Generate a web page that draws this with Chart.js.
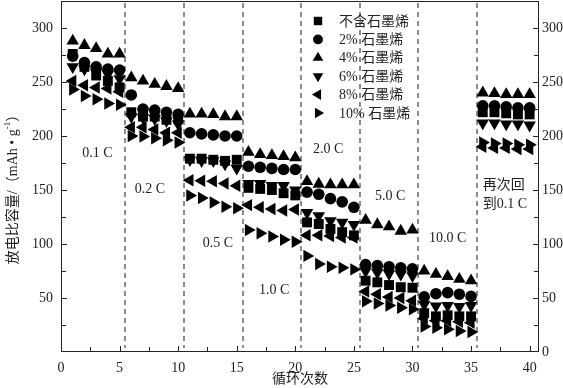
<!DOCTYPE html>
<html>
<head>
<meta charset="utf-8">
<script src="https://cdn.jsdelivr.net/npm/chart.js@4"></script>
<style>
  body { margin: 0; background: #fff; }
  canvas { display: block; }
</style>
</head>
<body>
<canvas id="rate" width="563" height="388"></canvas>
<script>
// cycle number 1..40
const cycles = [1, 2, 3, 4, 5, 6, 7, 8, 9, 10, 11, 12, 13, 14, 15, 16, 17, 18, 19, 20,
    21, 22, 23, 24, 25, 26, 27, 28, 29, 30, 31, 32, 33, 34, 35, 36, 37, 38, 39, 40];

const seriesNames = ["不含石墨烯", "2% 石墨烯", "4% 石墨烯", "6% 石墨烯", "8% 石墨烯", "10% 石墨烯"];

// discharge capacity, mAh/g
const cap0 = [276, 264, 256, 251, 245, 222, 218, 218, 215, 216,
    179, 179, 178, 177, 178, 152, 151, 150, 147, 145,
    120, 118.5, 114, 111, 108, 66, 64.5, 62, 60, 59.5,
    36, 33, 34, 33, 33, 222, 222, 221, 220, 220];
const cap2 = [274, 268, 264, 262, 261, 238, 225, 224, 222, 220,
    203, 202, 201, 200, 200, 172, 171, 170, 169, 169,
    148, 146, 142, 139, 134, 81, 80, 79, 78, 77,
    51, 54, 55, 53.5, 51.5, 228, 228, 227, 226, 226];
const cap4 = [288, 284, 281, 276, 276, 254, 251, 248, 246, 244,
    220.5, 220.5, 220, 218, 218, 185, 183, 182, 181, 180,
    158, 155.5, 155, 155, 155, 122, 118, 116, 112, 113,
    75, 72, 70, 67.5, 66, 240, 239.5, 238.5, 238.5, 238.5];
const cap6 = [264, 262, 259, 257, 253, 218, 217, 216, 214, 211,
    178, 177, 177, 174, 170, 156, 156, 154, 154, 150,
    129, 126, 121.5, 120, 118, 75, 73.5, 72.5, 72, 70.5,
    44, 42.5, 43, 42, 43, 212, 212, 211, 211, 210];
const cap8 = [251, 247, 245, 244, 241, 208, 208, 206, 203, 203,
    159, 158.5, 158, 156, 154, 136, 134, 132.5, 131, 132,
    108, 108, 107.5, 106, 106, 56, 53.5, 51, 50, 47.5,
    31, 29, 29, 28, 27, 190, 189, 189, 188, 188];
const cap10 = [243, 237, 234, 230, 229, 200, 199.5, 198, 196, 194,
    145, 142.5, 138.5, 134.5, 133, 113, 110, 107, 104, 102,
    89, 81.5, 79, 78, 76.5, 47, 45, 43, 41, 39.5,
    23.5, 22.5, 21, 19.5, 18.5, 194, 193, 193, 192, 192];

// rate boundaries (dashed lines) and rate labels
const stepBounds = [5.5, 10.5, 15.5, 20.5, 25.5, 30.5, 35.5];
const rateLabels = ["0.1 C", "0.2 C", "0.5 C", "1.0 C", "2.0 C", "5.0 C", "10.0 C"];

const allCaps = [cap0, cap2, cap4, cap6, cap8, cap10];
const markers = [
    { style: "rect", rot: 0, r: 7 },
    { style: "circle", rot: 0, r: 5.8 },
    { style: "triangle", rot: 0, r: 7.2 },
    { style: "triangle", rot: 180, r: 7.2 },
    { style: "triangle", rot: 270, r: 7.2 },
    { style: "triangle", rot: 90, r: 7.2 },
];

const serif = "'Liberation Serif', 'Times New Roman', serif";
const cjk = "'Liberation Serif', 'Noto Sans CJK SC', serif";
const ink = "#222";

const datasets = allCaps.map((arr, i) => ({
    label: seriesNames[i],
    data: cycles.map((c, k) => ({ x: c, y: arr[k] })),
    pointStyle: markers[i].style,
    rotation: markers[i].rot,
    pointRadius: markers[i].r,
    pointBorderWidth: 0,
    backgroundColor: "#000",
    borderColor: "#000",
    showLine: false,
}));

// where the rate labels sit, in data units (x = cycle, y = capacity)
const labelSpots = [[3.1, 184], [7.6, 151], [13.4, 100.5], [18.2, 57], [22.8, 188], [28.1, 144.5], [33.0, 105.5]];

const decor = {
    id: "decor",
    beforeDatasetsDraw(chart) {
        const { ctx, chartArea: a, scales } = chart;
        ctx.save();
        ctx.strokeStyle = "#8c8c8c";
        ctx.lineWidth = 2;
        ctx.setLineDash([5, 4]);
        stepBounds.forEach(v => {
            const px = Math.round(scales.x.getPixelForValue(v));
            ctx.beginPath();
            ctx.moveTo(px, a.top + 2);
            ctx.lineTo(px, a.bottom - 4);
            ctx.stroke();
        });
        ctx.restore();
    },
    afterDraw(chart) {
        const { ctx, chartArea: a, scales } = chart;
        ctx.save();
        // frame
        ctx.strokeStyle = ink;
        ctx.lineWidth = 1;
        ctx.strokeRect(a.left + 0.5, a.top + 0.5, a.right - a.left - 1, a.bottom - a.top - 1);

        // inward ticks
        ctx.beginPath();
        scales.x.ticks.forEach(t => {
            if (t.value <= 0) return;
            const px = Math.round(scales.x.getPixelForValue(t.value)) + 0.5;
            const len = t.value % 5 === 0 ? 6 : 5;
            ctx.moveTo(px, a.bottom);
            ctx.lineTo(px, a.bottom - len);
        });
        scales.y.ticks.forEach(t => {
            if (t.value <= 0 || t.value >= 325) return;
            const py = Math.round(scales.y.getPixelForValue(t.value)) + 0.5;
            const len = t.value % 50 === 0 ? 6 : 5;
            ctx.moveTo(a.left, py);
            ctx.lineTo(a.left + len, py);
            ctx.moveTo(a.right, py);
            ctx.lineTo(a.right - len, py);
        });
        ctx.stroke();

        // rate labels
        ctx.fillStyle = ink;
        ctx.font = "14px " + serif;
        ctx.textAlign = "center";
        ctx.textBaseline = "middle";
        rateLabels.forEach((txt, i) => {
            ctx.fillText(txt, scales.x.getPixelForValue(labelSpots[i][0]),
                scales.y.getPixelForValue(labelSpots[i][1]));
        });
        ctx.textAlign = "left";
        ctx.font = "14px " + cjk;
        const bx = scales.x.getPixelForValue(36.0);
        ctx.fillText("再次回", bx, scales.y.getPixelForValue(154));
        ctx.fillText("到0.1 C", bx, scales.y.getPixelForValue(137));

        // legend
        ctx.font = "14px " + cjk;
        datasets.forEach((ds, i) => {
            const y = 21 + i * 18.4;
            ctx.fillStyle = "#000";
            Chart.helpers.drawPoint(ctx, {
                pointStyle: markers[i].style,
                rotation: markers[i].rot,
                radius: markers[i].r * 0.85,
                borderWidth: 0,
            }, 318, y);
            ctx.fillStyle = ink;
            ctx.fillText(ds.label, 339, y + 1);
        });

        // axis titles
        ctx.textAlign = "center";
        ctx.font = "14px " + cjk;
        ctx.fillText("循环次数", (a.left + a.right) / 2, 379);

        ctx.translate(13, 186);
        ctx.rotate(-Math.PI / 2);
        const p1 = "放电比容量/（mAh • g";
        const p2 = "-1";
        const p3 = "）";
        ctx.font = "14px " + cjk;
        const w1 = ctx.measureText(p1).width;
        const w3 = ctx.measureText(p3).width;
        ctx.font = "9px " + cjk;
        const w2 = ctx.measureText(p2).width;
        let x = -(w1 + w2 + w3) / 2;
        ctx.textAlign = "left";
        ctx.font = "14px " + cjk;
        ctx.fillText(p1, x, 0);
        x += w1;
        ctx.font = "9px " + cjk;
        ctx.fillText(p2, x, -5);
        x += w2;
        ctx.font = "14px " + cjk;
        ctx.fillText(p3, x, 0);
        ctx.restore();
    },
};

const tickFont = { family: serif, size: 14 };
const noPad = s => { s.paddingTop = 0; s.paddingBottom = 0; s.paddingLeft = 0; s.paddingRight = 0; };

new Chart(document.getElementById("rate"), {
    type: "scatter",
    data: { datasets },
    options: {
        responsive: false,
        animation: false,
        devicePixelRatio: 1,
        layout: { autoPadding: false, padding: { top: 1, left: 0, right: 0, bottom: 0 } },
        plugins: {
            legend: { display: false },
            tooltip: { enabled: false },
        },
        scales: {
            x: {
                type: "linear",
                min: 0,
                max: 40.8,
                grid: { display: false, drawTicks: false },
                border: { display: false },
                ticks: {
                    stepSize: 2.5,
                    includeBounds: false,
                    autoSkip: false,
                    maxRotation: 0,
                    padding: 8,
                    color: ink,
                    font: tickFont,
                    callback: v => (v % 5 === 0 ? v : ""),
                },
                afterFit: s => { noPad(s); s.height = 36; },
            },
            y: {
                min: 0,
                max: 325,
                grid: { display: false, drawTicks: false },
                border: { display: false },
                ticks: {
                    stepSize: 25,
                    autoSkip: false,
                    padding: 8,
                    color: ink,
                    font: tickFont,
                    callback: v => (v % 50 === 0 && v > 0 ? v : ""),
                },
                afterFit: s => { noPad(s); s.width = 61; },
            },
            y2: {
                position: "right",
                min: 0,
                max: 325,
                grid: { display: false, drawTicks: false },
                border: { display: false },
                ticks: {
                    stepSize: 25,
                    autoSkip: false,
                    padding: 3,
                    color: ink,
                    font: tickFont,
                    callback: v => (v % 50 === 0 ? v : ""),
                },
                afterFit: s => { noPad(s); s.width = 24; },
            },
        },
    },
    plugins: [decor],
});
</script>
</body>
</html>
